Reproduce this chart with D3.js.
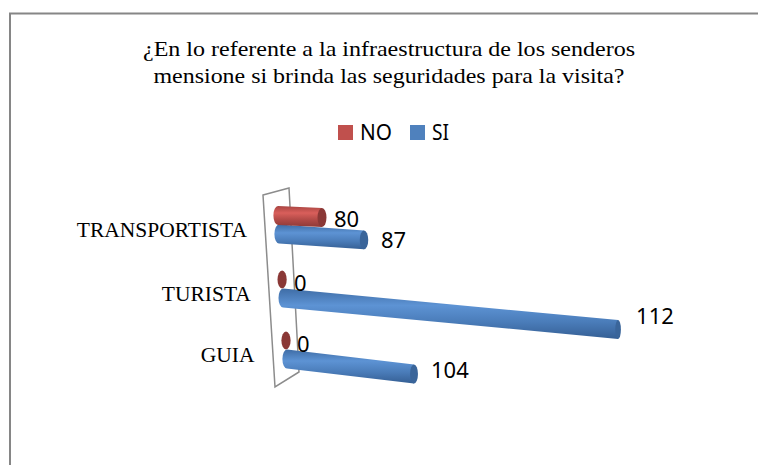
<!DOCTYPE html>
<html>
<head>
<meta charset="utf-8">
<script src="https://cdn.jsdelivr.net/npm/d3@7"></script>
<style>
  html, body { margin: 0; padding: 0; background: #fff; }
  svg { display: block; }
</style>
</head>
<body>
<script>
var categorias = ["TRANSPORTISTA", "TURISTA", "GUIA"]
var valoresSI = [87, 112, 104]
var valoresNO = [80, 0, 0]
var leyenda = ["NO", "SI"]
var titulo = ["¿En lo referente a la infraestructura de los senderos",
              "mensione si brinda las seguridades para la visita?"]

var width = 758
var height = 465

var svg = d3.select("body").append("svg")
    .attr("width", width)
    .attr("height", height)

var colores = {
    NO: { base: "#c0504d", tapa: "#8a3836", g: ["#a94542", "#d95f5b", "#b04946", "#8e3a38"] },
    SI: { base: "#4f81bd", tapa: "#3a659a", g: ["#3f6da6", "#5d93d4", "#4a7cb9", "#355f94"] }
}

// degradado vertical de cada cilindro
var defs = svg.append("defs")
Object.keys(colores).forEach(function(k) {
    var grad = defs.append("linearGradient")
        .attr("id", "grad" + k)
        .attr("x1", 0).attr("y1", 0).attr("x2", 0).attr("y2", 1)
    colores[k].g.forEach(function(c, i) {
        grad.append("stop")
            .attr("offset", (i / (colores[k].g.length - 1) * 100) + "%")
            .attr("stop-color", c)
    })
})

// marco del grafico
svg.append("path")
    .attr("d", "M10,465V13.5H758")
    .attr("fill", "none")
    .attr("stroke", "#868686")
    .attr("stroke-width", 2)

// titulo
svg.append("g").selectAll("text")
    .data(titulo)
    .enter()
    .append("text")
    .attr("x", 389)
    .attr("y", function(d, i) { return 56 + i * 26.5 })
    .attr("text-anchor", "middle")
    .attr("font-family", "Liberation Serif")
    .attr("font-size", 21.5)
    .attr("textLength", function(d, i) { return i == 0 ? 492 : 471 })
    .attr("lengthAdjust", "spacingAndGlyphs")
    .text(function(d) { return d })

// leyenda
var legendaX = d3.scalePoint().domain(leyenda).range([338, 410])
var itemLeyenda = svg.append("g").selectAll("g")
    .data(leyenda)
    .enter()
    .append("g")
    .attr("transform", function(d) { return "translate(" + legendaX(d) + ",125)" })
itemLeyenda.append("rect")
    .attr("width", 15)
    .attr("height", 15)
    .attr("fill", function(d) { return colores[d].base })
itemLeyenda.append("text")
    .attr("x", 22)
    .attr("y", 15)
    .attr("font-family", "Noto Sans")
    .attr("font-size", 21)
    .attr("textLength", function(d) { return d == "NO" ? 32 : 17 })
    .attr("lengthAdjust", "spacingAndGlyphs")
    .text(function(d) { return d })

// pared lateral en perspectiva
svg.append("path")
    .attr("d", "M263,195L289,188L299,372L275,387Z")
    .attr("fill", "none")
    .attr("stroke", "#8c8c8c")
    .attr("stroke-width", 1.5)

// en el original las barras no son proporcionales (perspectiva 3D), por eso
// la escala va por tramos con un punto por cada valor
var escalaLargo = d3.scaleLinear()
    .domain([0, 80, 87, 104, 112])
    .range([0, 44, 85, 127, 335])
var escalaY = d3.scaleOrdinal().domain(categorias).range([234, 298, 359])
var escalaInicioX = d3.scaleLinear().domain([234, 359]).range([279, 287])
var escalaTilt = d3.scalePoint().domain(categorias).range([0.07, 0.118])
var escalaRx = d3.scaleLinear().domain([300, 620]).range([4.6, 2.8]).clamp(true)
var escalaFinEtiqueta = d3.scaleLinear().domain([234, 359]).range([247, 254.5])

function cilindro(g, cat, valor, serie, dy, dx, dTilt) {
    var y0 = escalaY(cat) + dy
    var x0 = escalaInicioX(escalaY(cat)) + dx
    var largo = escalaLargo(valor)
    var x1 = x0 + largo
    var y1 = y0 + largo * (escalaTilt(cat) + dTilt)
    var ry = 9.4
    var rx = escalaRx(x1)
    if (valor == 0) {
        g.append("ellipse")
            .attr("cx", x0).attr("cy", y0)
            .attr("rx", 4.6).attr("ry", 9)
            .attr("fill", colores[serie].tapa)
    } else {
        g.append("path")
            .attr("d", "M" + x0 + "," + (y0 - ry) +
                "L" + x1 + "," + (y1 - ry) +
                "V" + (y1 + ry) +
                "L" + x0 + "," + (y0 + ry) +
                "A4.6," + ry + " 0 0 1 " + x0 + "," + (y0 - ry) + "Z")
            .attr("fill", "url(#grad" + serie + ")")
        g.append("ellipse")
            .attr("cx", x1).attr("cy", y1)
            .attr("rx", rx).attr("ry", ry)
            .attr("fill", colores[serie].tapa)
    }
    return [x1, y1]
}

var barras = svg.append("g")
var etiquetas = []
// ajuste de cada etiqueta respecto al extremo de su barra
var ajusteSI = { TRANSPORTISTA: [17, 8], TURISTA: [18, -5], GUIA: [17, 4] }
var ajusteNO = { TRANSPORTISTA: [12, 10], TURISTA: [12, 11], GUIA: [11, 11] }

categorias.forEach(function(cat, i) {
    var fin = cilindro(barras, cat, valoresSI[i], "SI", 0, 0, 0)
    etiquetas.push({ v: valoresSI[i], x: fin[0] + ajusteSI[cat][0], y: fin[1] + ajusteSI[cat][1] })
})
categorias.forEach(function(cat, i) {
    var fin = cilindro(barras, cat, valoresNO[i], "NO", -18.5, -1, -0.025)
    etiquetas.push({ v: valoresNO[i], x: fin[0] + ajusteNO[cat][0], y: fin[1] + ajusteNO[cat][1] })
})

// valores
svg.append("g").selectAll("text")
    .data(etiquetas)
    .enter()
    .append("text")
    .attr("x", function(d) { return d.x })
    .attr("y", function(d) { return d.y })
    .attr("font-family", "Noto Sans")
    .attr("font-size", 22)
    .attr("fill", "#000")
    .text(function(d) { return d.v })

// categorias
svg.append("g").selectAll("text")
    .data(categorias)
    .enter()
    .append("text")
    .attr("x", function(d) { return escalaFinEtiqueta(escalaY(d)) })
    .attr("y", function(d) { return escalaY(d) + 3 })
    .attr("text-anchor", "end")
    .attr("font-family", "Liberation Serif")
    .attr("font-size", 21.5)
    .text(function(d) { return d })
</script>
</body>
</html>
